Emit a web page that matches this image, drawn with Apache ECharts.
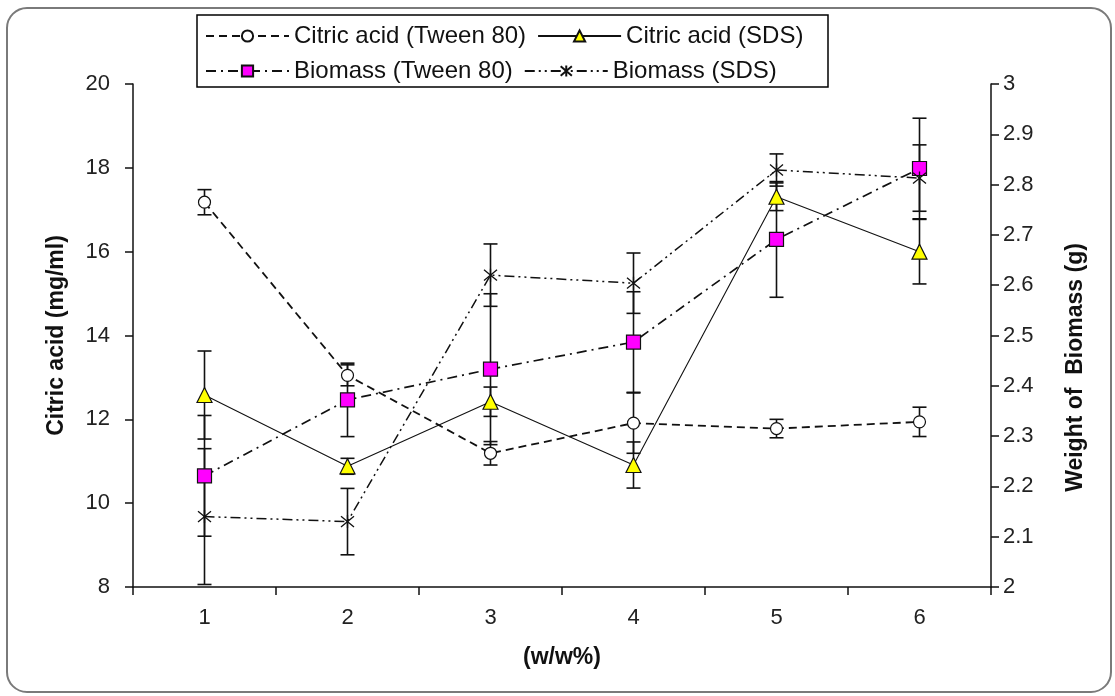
<!DOCTYPE html>
<html>
<head>
<meta charset="utf-8">
<script src="https://cdn.jsdelivr.net/npm/echarts@6/dist/echarts.min.js"></script>
<style>
html,body{margin:0;padding:0;background:#fff;}
#chart{width:1115px;height:696px;}
</style>
</head>
<body>
<div id="chart"></div>
<script>
// ---- data ----
const categories = ['1', '2', '3', '4', '5', '6'];
const citricTween = [17.18, 13.05, 11.19, 11.91, 11.78, 11.94];
const citricTweenErr = [0.3, 0.25, 0.28, 0.72, 0.22, 0.35];
const citricSDS = [12.58, 10.88, 12.42, 10.91, 17.31, 16.0];
const citricSDSErr = [1.05, 0.19, 0.35, 0.55, 0.33, 0.77];
const biomassTween = [2.221, 2.372, 2.433, 2.487, 2.691, 2.832];
const biomassTweenErr = [0.12, 0.073, 0.15, 0.1, 0.115, 0.1];
const biomassSDS = [2.140, 2.130, 2.620, 2.604, 2.829, 2.813];
const biomassSDSErr = [0.135, 0.066, 0.062, 0.06, 0.032, 0.066];
const leftTicks = {min: 8, max: 20, interval: 2};
const rightTicks = {min: 2, max: 3, interval: 0.1};

const FONT = '"Liberation Sans", Arial, sans-serif';
const chart = echarts.init(document.getElementById('chart'));

function errSeries(vals, errs, yIdx) {
  return {
    type: 'custom',
    yAxisIndex: yIdx,
    z: 1,
    silent: true,
    data: vals.map((v, i) => [i, v, errs[i]]),
    renderItem: function (params, api) {
      const x = api.value(0), v = api.value(1), e = api.value(2);
      const t = api.coord([x, v + e]);
      const b = api.coord([x, v - e]);
      const w = 7;
      const st = {stroke: '#111', lineWidth: 1.6};
      return {
        type: 'group',
        children: [
          {type: 'line', shape: {x1: t[0], y1: t[1], x2: b[0], y2: b[1]}, style: st},
          {type: 'line', shape: {x1: t[0] - w, y1: t[1], x2: t[0] + w, y2: t[1]}, style: st},
          {type: 'line', shape: {x1: b[0] - w, y1: b[1], x2: b[0] + w, y2: b[1]}, style: st}
        ]
      };
    }
  };
}

const option = {
  backgroundColor: '#fff',
  animation: false,
  textStyle: {fontFamily: FONT},
  graphic: [
    {type: 'rect', z: -10, shape: {x: 7, y: 8, width: 1104, height: 684, r: 20},
     style: {fill: 'none', stroke: '#7a7a7a', lineWidth: 2}},
    {type: 'rect', z: 0, shape: {x: 197, y: 15, width: 631, height: 72},
     style: {fill: '#fff', stroke: '#000', lineWidth: 1.5}}
  ],
  legend: {
    data: ['Citric acid (Tween 80)', 'Citric acid (SDS)', 'Biomass (Tween 80)', 'Biomass (SDS)'],
    left: 205, top: 24, width: 620,
    padding: 0,
    itemWidth: 83, itemHeight: 14, itemGap: 11,
    z: 5,
    textStyle: {fontFamily: FONT, fontSize: 24, color: '#111', lineHeight: 24}
  },
  grid: {left: 133, right: 124, top: 84, bottom: 109, containLabel: false},
  xAxis: {
    type: 'category',
    data: categories,
    name: '(w/w%)',
    nameLocation: 'middle',
    nameGap: 59,
    nameTextStyle: {fontFamily: FONT, fontSize: 23, fontWeight: 'bold', color: '#111'},
    axisLine: {lineStyle: {color: '#111', width: 1.5}},
    axisTick: {show: true, inside: false, length: 8, lineStyle: {color: '#111', width: 1.5}},
    axisLabel: {fontFamily: FONT, fontSize: 22, color: '#222', margin: 20},
    splitLine: {show: false}
  },
  yAxis: [
    {
      type: 'value', position: 'left',
      min: leftTicks.min, max: leftTicks.max, interval: leftTicks.interval,
      name: 'Citric acid (mg/ml)',
      nameLocation: 'middle', nameGap: 65, nameRotate: 90,
      nameTextStyle: {fontFamily: FONT, fontSize: 23, fontWeight: 'bold', color: '#111'},
      axisLine: {show: true, lineStyle: {color: '#111', width: 1.5}},
      axisTick: {show: true, length: 8, lineStyle: {color: '#111', width: 1.5}},
      axisLabel: {fontFamily: FONT, fontSize: 22, color: '#222', margin: 23},
      splitLine: {show: false}
    },
    {
      type: 'value', position: 'right',
      min: rightTicks.min, max: rightTicks.max, interval: rightTicks.interval,
      name: 'Weight of  Biomass (g)',
      nameLocation: 'middle', nameGap: 73, nameRotate: 90,
      nameTextStyle: {fontFamily: FONT, fontSize: 23, fontWeight: 'bold', color: '#111',
        padding: [0, 64, 0, 0]},
      axisLine: {show: true, lineStyle: {color: '#111', width: 1.5}},
      axisTick: {show: true, length: 8, lineStyle: {color: '#111', width: 1.5}},
      axisLabel: {fontFamily: FONT, fontSize: 22, color: '#222', margin: 12,
        formatter: v => String(Math.round(v * 10) / 10)},
      splitLine: {show: false}
    }
  ],
  series: [
    errSeries(citricTween, citricTweenErr, 0),
    errSeries(citricSDS, citricSDSErr, 0),
    errSeries(biomassTween, biomassTweenErr, 1),
    errSeries(biomassSDS, biomassSDSErr, 1),
    {
      name: 'Citric acid (Tween 80)', type: 'line', yAxisIndex: 0, z: 3,
      data: citricTween,
      symbol: 'circle', symbolSize: 12,
      itemStyle: {color: '#fff', borderColor: '#111', borderWidth: 1.2},
      lineStyle: {color: '#111', width: 1.8, type: [8, 5]}
    },
    {
      name: 'Citric acid (SDS)', type: 'line', yAxisIndex: 0, z: 4,
      data: citricSDS,
      symbol: 'triangle', symbolSize: 15,
      itemStyle: {color: '#ffff00', borderColor: '#111', borderWidth: 1.2},
      lineStyle: {color: '#111', width: 1.1, type: 'solid'}
    },
    {
      name: 'Biomass (Tween 80)', type: 'line', yAxisIndex: 1, z: 3,
      data: biomassTween,
      symbol: 'rect', symbolSize: 14,
      itemStyle: {color: '#ff00ff', borderColor: '#111', borderWidth: 1.2},
      lineStyle: {color: '#111', width: 1.7, type: [10, 5, 2, 5]}
    },
    {
      name: 'Biomass (SDS)', type: 'line', yAxisIndex: 1, z: 3,
      data: biomassSDS,
      symbol: 'path://M0,0L10,10M10,0L0,10M5,-1L5,11', symbolSize: 13,
      itemStyle: {color: 'none', borderColor: '#111', borderWidth: 1.3},
      lineStyle: {color: '#111', width: 1.5, type: [10, 4, 2, 4, 2, 4]}
    }
  ]
};
chart.setOption(option);
</script>
</body>
</html>
